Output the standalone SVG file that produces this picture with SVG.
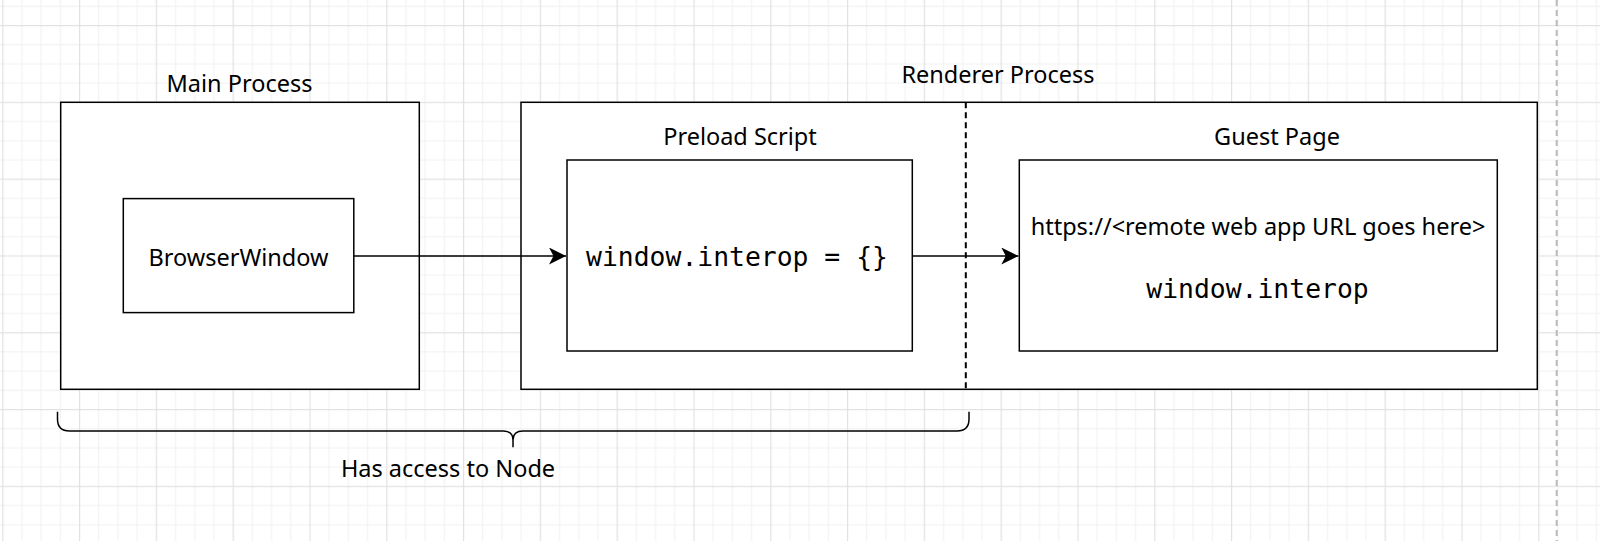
<svg xmlns="http://www.w3.org/2000/svg" width="1600" height="541" viewBox="0 0 1600 541">
<style>
.box{fill:#fff;stroke:#000;stroke-width:1.5}
.lbl{font-family:"Noto Sans","Open Sans",sans-serif;font-size:23.5px;fill:#000;text-anchor:middle}
.mono{font-family:"DejaVu Sans Mono","Liberation Mono",monospace;font-size:26.4px;fill:#000;text-anchor:middle}
.edge{fill:none;stroke:#000;stroke-width:1.5}
</style>
<defs>
<pattern id="grid" patternUnits="userSpaceOnUse" x="2.2" y="25" width="76.8" height="76.8">
<rect width="76.8" height="76.8" fill="#fff"/>
<g fill="#f1f1f1">
<rect x="19.2" y="0" width="1" height="76.8"/>
<rect x="38.4" y="0" width="1" height="76.8"/>
<rect x="57.6" y="0" width="1" height="76.8"/>
<rect x="0" y="19.2" width="76.8" height="1"/>
<rect x="0" y="38.4" width="76.8" height="1"/>
<rect x="0" y="57.6" width="76.8" height="1"/>
</g>
<g fill="#e2e2e2">
<rect x="0" y="0" width="1.2" height="76.8"/>
<rect x="0" y="0" width="76.8" height="1.2"/>
</g>
</pattern>
<marker id="arr" markerUnits="userSpaceOnUse" markerWidth="20" markerHeight="20" refX="17" refY="8.5" orient="auto">
<path d="M0,0 L17,8.5 L0,17 L4.5,8.5 Z" fill="#000"/>
</marker>
</defs>
<rect width="1600" height="541" fill="url(#grid)"/>
<line x1="1556.7" y1="0" x2="1556.7" y2="541" stroke="#b8b8b8" stroke-width="2" stroke-dasharray="6 4"/>

<g id="main-process">
<rect class="box" x="60.7" y="102.3" width="358.6" height="287"/>
<text class="lbl" x="239.5" y="91.7">Main Process</text>
</g>
<g id="browser-window">
<rect class="box" x="123.3" y="198.6" width="230.5" height="114"/>
<text class="lbl" x="238.5" y="266">BrowserWindow</text>
</g>
<g id="renderer-process">
<rect class="box" x="521" y="102.3" width="1016.3" height="287"/>
<line x1="965.8" y1="102.3" x2="965.8" y2="389.3" stroke="#000" stroke-width="2" stroke-dasharray="6 4"/>
<text class="lbl" x="998" y="83.3">Renderer Process</text>
</g>
<g id="preload-script">
<rect class="box" x="567" y="160" width="345.3" height="191"/>
<text class="lbl" x="740" y="144.5">Preload Script</text>
<text class="mono" x="737" y="265.7">window.interop = {}</text>
</g>
<g id="guest-page">
<rect class="box" x="1019.3" y="160" width="478" height="191"/>
<text class="lbl" x="1277" y="144.5">Guest Page</text>
<text class="lbl" x="1258" y="235">https://&lt;remote web app URL goes here&gt;</text>
<text class="mono" x="1257.5" y="298.3">window.interop</text>
</g>
<g id="node-access">
<path class="edge" d="M57.5,411.7 V419 Q57.5,431 69.5,431 H503 Q513,431 513,440 V447.3 M513,440 Q513,431 523,431 H957 Q969,431 969,419 V411.7"/>
<text class="lbl" x="448" y="477.3">Has access to Node</text>
</g>
<g id="connectors">
<line class="edge" x1="353.8" y1="256" x2="566" y2="256" marker-end="url(#arr)"/>
<line class="edge" x1="912.3" y1="256" x2="1018.3" y2="256" marker-end="url(#arr)"/>
</g>
</svg>
